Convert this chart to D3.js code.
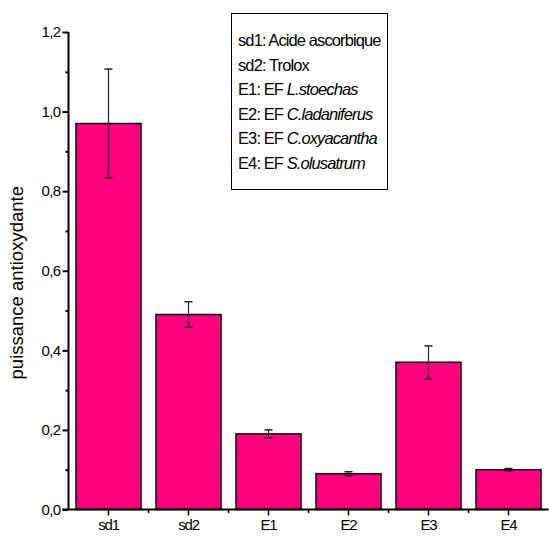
<!DOCTYPE html>
<html><head><meta charset="utf-8">
<script src="https://cdn.jsdelivr.net/npm/d3@7"></script>
<style>body{margin:0;background:#fff}svg{display:block}text{font-family:"Liberation Sans",Arial,sans-serif}</style>
</head><body>
<script>
const categories = ["sd1","sd2","E1","E2","E3","E4"];
const values = [0.97, 0.49, 0.19, 0.09, 0.37, 0.10];
const errors = [0.137, 0.032, 0.010, 0.005, 0.041, 0.003];
const yTicks = [0, 0.2, 0.4, 0.6, 0.8, 1.0, 1.2];
const yTickLabels = ["0,0","0,2","0,4","0,6","0,8","1,0","1,2"];
const yMinorTicks = [0.1, 0.3, 0.5, 0.7, 0.9, 1.1];
const legendLines = [
  [["sd1: Acide ascorbique", false]],
  [["sd2: Trolox", false]],
  [["E1: EF ", false], ["L.stoechas", true]],
  [["E2: EF ", false], ["C.ladaniferus", true]],
  [["E3: EF ", false], ["C.oxyacantha", true]],
  [["E4: EF ", false], ["S.olusatrum", true]]
];
const yTitle = "puissance antioxydante";

const W = 549, H = 543;
const x0 = 68.5, x1 = 548.5, yTop = 32, yBot = 509.5;
const svg = d3.select("body").append("svg").attr("width", W).attr("height", H);

const x = d3.scaleBand().domain(categories).range([x0, x1]).paddingInner(0.1875).paddingOuter(0.09375);
const y = d3.scaleLinear().domain([0, 1.2]).range([yBot, yTop]);

// bars
svg.selectAll("rect.bar").data(categories).enter().append("rect")
  .attr("x", d => x(d)).attr("y", (d,i) => y(values[i]))
  .attr("width", x.bandwidth()).attr("height", (d,i) => y(0) - y(values[i]))
  .attr("fill", "#ff0080").attr("stroke", "#000").attr("stroke-width", 1.5);

// error bars
const eg = svg.selectAll("g.err").data(categories).enter().append("g");
eg.append("line").attr("x1", d => x(d) + x.bandwidth()/2).attr("x2", d => x(d) + x.bandwidth()/2)
  .attr("y1", (d,i) => y(values[i]+errors[i])).attr("y2", (d,i) => y(values[i]-errors[i]))
  .attr("stroke", "#222").attr("stroke-width", 1.2);
[1, -1].forEach(s => {
  eg.append("line").attr("x1", d => x(d) + x.bandwidth()/2 - 4).attr("x2", d => x(d) + x.bandwidth()/2 + 4)
    .attr("y1", (d,i) => y(values[i]+s*errors[i])).attr("y2", (d,i) => y(values[i]+s*errors[i]))
    .attr("stroke", "#222").attr("stroke-width", 1.5);
});

// y axis
const yAxis = d3.axisLeft(y).tickValues(yTicks).tickFormat((d,i) => yTickLabels[i]).tickSize(6).tickPadding(2);
const ya = svg.append("g").attr("transform", `translate(${x0},0)`).call(yAxis);
ya.select(".domain").attr("stroke-width", 2).attr("d", `M0,${yTop}V${yBot}`);
ya.selectAll(".tick line").attr("stroke-width", 2);
ya.selectAll(".tick text").attr("font-size", 15).attr("fill", "#000").attr("letter-spacing", -0.6);
const yMinor = d3.axisLeft(y).tickValues(yMinorTicks).tickFormat("").tickSize(3);
const ym = svg.append("g").attr("transform", `translate(${x0},0)`).call(yMinor);
ym.select(".domain").remove();
ym.selectAll(".tick line").attr("stroke-width", 2);

// x axis
const xAxis = d3.axisBottom(x).tickSize(6).tickPadding(4);
const xa = svg.append("g").attr("transform", `translate(0,${yBot})`).call(xAxis);
xa.select(".domain").attr("stroke-width", 2).attr("d", `M${x0-6},0H${x1}`);
xa.selectAll(".tick line").attr("stroke-width", 1.5);
xa.selectAll(".tick text").attr("font-size", 15).attr("fill", "#000").attr("letter-spacing", -1.2);
// minor x ticks at band boundaries
const bounds = categories.slice(1).map(d => x(d) - x.step()*x.paddingInner()/2);
svg.append("g").selectAll("line").data(bounds).enter().append("line")
  .attr("x1", d => d).attr("x2", d => d).attr("y1", yBot).attr("y2", yBot + 3.5)
  .attr("stroke", "#000").attr("stroke-width", 1.5);

// y title
svg.append("text").attr("transform", `translate(23,${(yTop+yBot)/2 + 12}) rotate(-90)`)
  .attr("text-anchor", "middle").attr("font-size", 18.5).attr("fill", "#000").text(yTitle);

// legend
const lg = svg.append("g");
lg.append("rect").attr("x", 231.5).attr("y", 13.5).attr("width", 156).attr("height", 176)
  .attr("fill", "#fff").attr("stroke", "#000").attr("stroke-width", 1);
legendLines.forEach((parts, i) => {
  const t = lg.append("text").attr("x", 238).attr("y", 46 + i*24.5).attr("font-size", 16.5)
    .attr("letter-spacing", -0.9).attr("fill", "#000");
  parts.forEach(([s, it]) => t.append("tspan").attr("font-style", it ? "italic" : "normal").text(s));
});
</script>
</body></html>
